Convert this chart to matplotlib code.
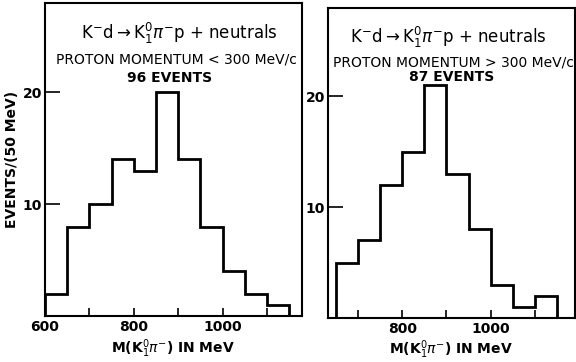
import matplotlib.pyplot as plt

# bin edges (MeV) and event counts
edges_lo = [600, 650, 700, 750, 800, 850, 900, 950, 1000, 1050, 1100, 1150]
counts_lo = [2, 8, 10, 14, 13, 20, 14, 8, 4, 2, 1]

edges_hi = [650, 700, 750, 800, 850, 900, 950, 1000, 1050, 1100, 1150]
counts_hi = [5, 7, 12, 15, 21, 13, 8, 3, 1, 2]

ticks = [600, 700, 800, 900, 1000, 1100]
labelled_lo = [600, 800, 1000]
labelled_hi = [800, 1000]

reaction = r'K$^{-}$d$\rightarrow$K$_{1}^{0}\pi^{-}$p + neutrals'
sub_lo = 'PROTON MOMENTUM < 300 MeV/c'
sub_hi = 'PROTON MOMENTUM > 300 MeV/c'
n_lo = '96 EVENTS'
n_hi = '87 EVENTS'
xlab = r'M(K$_{1}^{0}\pi^{-}$) IN MeV'
ylab = 'EVENTS/(50 MeV)'

plt.rcParams['font.family'] = 'DejaVu Sans'
plt.rcParams['mathtext.fontset'] = 'dejavusans'

fig = plt.figure(figsize=(5.76, 3.62), dpi=100)
ax1 = fig.add_axes([0.078, 0.127, 0.446, 0.865])
ax2 = fig.add_axes([0.569, 0.122, 0.429, 0.856])


def style(ax, xlim, labelled):
    ax.set_xlim(*xlim)
    ax.set_ylim(0, 28)
    tk = [t for t in ticks if xlim[0] <= t < xlim[1]]
    ax.set_xticks(tk)
    ax.set_xticklabels([str(t) if t in labelled else '' for t in tk])
    ax.set_yticks([10, 20])
    ax.tick_params(axis='x', direction='in', length=6, width=1.2,
                   labelsize=10, pad=3)
    ax.tick_params(axis='y', direction='in', length=11, width=1.2,
                   labelsize=10, pad=2)
    for lab in ax.get_xticklabels() + ax.get_yticklabels():
        lab.set_fontweight('bold')
    for s in ax.spines.values():
        s.set_linewidth(1.5)
    ax.set_xlabel(xlab, fontsize=10, fontweight='bold', labelpad=2)


ax1.stairs(counts_lo, edges_lo, baseline=0, color='black', linewidth=2)
style(ax1, (600, 1178), labelled_lo)
ax1.set_ylabel(ylab, fontsize=10, fontweight='bold', labelpad=3)
ax1.text(0.525, 0.904, reaction, transform=ax1.transAxes, ha='center',
         va='center', fontsize=12)
ax1.text(0.51, 0.818, sub_lo, transform=ax1.transAxes, ha='center',
         va='center', fontsize=10)
ax1.text(0.486, 0.76, n_lo, transform=ax1.transAxes, ha='center',
         va='center', fontsize=10, fontweight='bold')

ax2.stairs(counts_hi, edges_hi, baseline=0, color='black', linewidth=2)
style(ax2, (632, 1190), labelled_hi)
ax2.text(0.49, 0.906, reaction, transform=ax2.transAxes, ha='center',
         va='center', fontsize=12)
ax2.text(0.51, 0.823, sub_hi, transform=ax2.transAxes, ha='center',
         va='center', fontsize=10)
ax2.text(0.50, 0.777, n_hi, transform=ax2.transAxes, ha='center',
         va='center', fontsize=10, fontweight='bold')

fig.savefig('out.png', dpi=100)
